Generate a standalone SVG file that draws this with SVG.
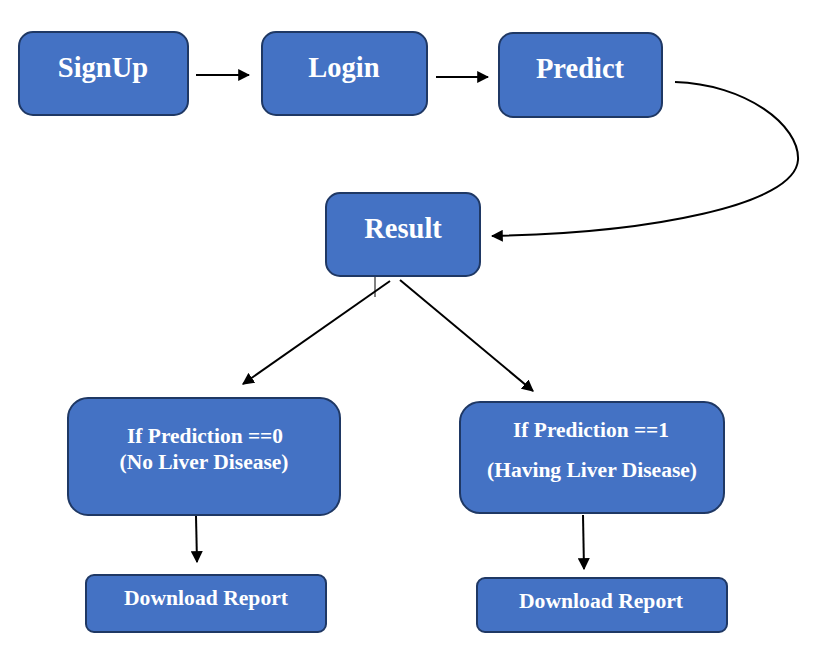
<svg xmlns="http://www.w3.org/2000/svg" width="814" height="651" viewBox="0 0 814 651">
<style>
.box{fill:#4472C4;stroke:#1F3864;stroke-width:2}
.t{fill:#ffffff;font-family:"Liberation Serif","Times New Roman",serif;font-weight:bold;text-anchor:middle}
.big{font-size:28.5px}
.sm{font-size:20px}
.c{fill:none;stroke:#000;stroke-width:2;marker-end:url(#ah)}
</style>
<defs>
<marker id="ah" viewBox="0 0 10 10" refX="9" refY="5" markerWidth="6" markerHeight="6" markerUnits="strokeWidth" orient="auto">
<path d="M0,0 L10,5 L0,10 z" fill="#000"/>
</marker>
</defs>
<rect width="814" height="651" fill="#fff"/>
<g id="connectors">
<line class="c" x1="196" y1="75" x2="249" y2="75"/>
<line class="c" x1="436" y1="77" x2="488" y2="77"/>
<path class="c" d="M675,82 C745,84 800,125 798,160 C795,205 650,233 492,236"/>
<line class="c" x1="390" y1="281" x2="243" y2="384"/>
<line class="c" x1="400" y1="280" x2="533" y2="391"/>
<line x1="375" y1="276" x2="375" y2="297" stroke="#000" stroke-width="1"/>
<line class="c" x1="196" y1="516" x2="197" y2="562"/>
<line class="c" x1="583" y1="515" x2="584" y2="569"/>
</g>
<g id="signup"><rect class="box" x="19" y="32" width="169" height="83" rx="14"/><text class="t big" x="103" y="77">SignUp</text></g>
<g id="login"><rect class="box" x="262" y="32" width="165" height="83" rx="14"/><text class="t big" x="344" y="77">Login</text></g>
<g id="predict"><rect class="box" x="499" y="33" width="163" height="84" rx="14"/><text class="t big" x="580" y="78">Predict</text></g>
<g id="result"><rect class="box" x="326" y="193" width="154" height="83" rx="14"/><text class="t big" x="403" y="238">Result</text></g>
<g id="pred0"><rect class="box" x="68" y="398" width="272" height="117" rx="20"/>
<text class="t sm" x="205" y="443" textLength="156" lengthAdjust="spacingAndGlyphs">If Prediction ==0</text>
<text class="t sm" x="204" y="469" textLength="169" lengthAdjust="spacingAndGlyphs">(No Liver Disease)</text></g>
<g id="pred1"><rect class="box" x="460" y="402" width="264" height="111" rx="20"/>
<text class="t sm" x="591" y="437" textLength="156" lengthAdjust="spacingAndGlyphs">If Prediction ==1</text>
<text class="t sm" x="592" y="477" textLength="210" lengthAdjust="spacingAndGlyphs">(Having Liver Disease)</text></g>
<g id="dl0"><rect class="box" x="86" y="575" width="240" height="57" rx="8"/>
<text class="t sm" x="206" y="605" textLength="164" lengthAdjust="spacingAndGlyphs">Download Report</text></g>
<g id="dl1"><rect class="box" x="477" y="578" width="250" height="54" rx="8"/>
<text class="t sm" x="601" y="608" textLength="164" lengthAdjust="spacingAndGlyphs">Download Report</text></g>
</svg>
